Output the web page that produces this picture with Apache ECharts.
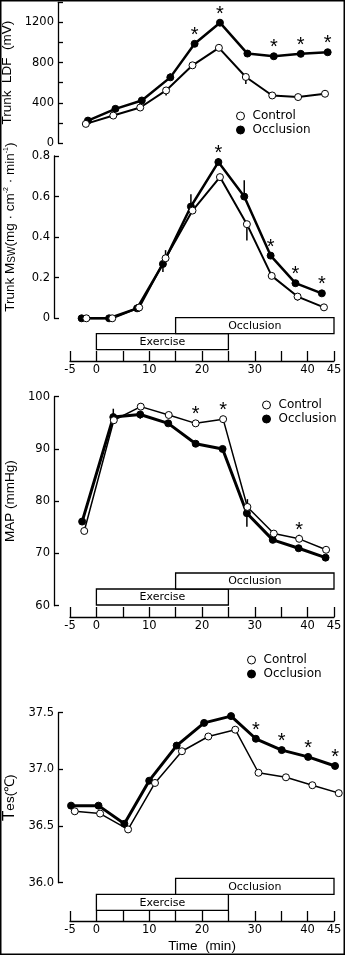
<!DOCTYPE html>
<html><head><meta charset="utf-8">
<script src="https://cdn.jsdelivr.net/npm/echarts@6/dist/echarts.min.js"></script>
<style>html,body{margin:0;padding:0;background:#fff}#c{width:345px;height:955px}</style>
</head><body><div id="c"></div>
<script>
// ---- Panel 1: Trunk LDF (mV)
const ldfTimeControl = [-2, 3.2, 8.3, 13.2, 18.2, 23.2, 28.3, 33.3, 38.2, 43.3];
const ldfControl = [190, 273, 353, 523, 773, 947, 657, 473, 457, 490];
const ldfErrControl = [0, 0, 0, -50, 0, 0, -70, 0, 0, 0];
const ldfTimeOcclusion = [-1.6, 3.6, 8.6, 14.0, 18.6, 23.4, 28.6, 33.6, 38.7, 43.8];
const ldfOcclusion = [223, 340, 423, 653, 987, 1197, 890, 863, 887, 903];
const ldfErrOcclusion = [0, 0, 0, 40, 0, 0, 0, 0, 0, 0];
const ldfSigOcclusion = [0, 0, 0, 0, 1, 1, 0, 1, 1, 1];
const ldfTickLabels = [0, 400, 800, 1200];

// ---- Panel 2: Trunk Msw (mg/cm2/min)
const mswTimeControl = [-1.9, 3.0, 8.1, 13.1, 18.2, 23.4, 28.5, 33.2, 38.1, 43.1];
const mswControl = [0, 0, 0.053, 0.296, 0.531, 0.696, 0.464, 0.209, 0.107, 0.054];
const mswErrControl = [0, 0, -0.02, 0.04, 0, 0, -0.08, 0, -0.02, 0];
const mswTimeOcclusion = [-2.8, 2.4, 7.7, 12.6, 17.9, 23.1, 28.0, 33.0, 37.7, 42.7];
const mswOcclusion = [0, 0, 0.049, 0.268, 0.551, 0.770, 0.600, 0.309, 0.173, 0.123];
const mswErrOcclusion = [0, 0, 0.02, -0.04, 0.06, 0.02, 0.08, 0, 0, 0];
const mswSigOcclusion = [0, 0, 0, 0, 0, 1, 0, 1, 1, 1];
const mswTickLabels = [0, 0.2, 0.4, 0.6, 0.8];

// ---- Panel 3: MAP (mmHg)
const mapTimeControl = [-2.3, 3.3, 8.4, 13.7, 18.8, 24.0, 28.6, 33.6, 38.4, 43.5];
const mapControl = [74.3, 95.5, 98.1, 96.5, 94.9, 95.7, 78.9, 73.8, 72.8, 70.7];
const mapErrControl = [0, 0, 0.6, 0, 0, 0, 1.5, 0, 0.8, 0.4];
const mapTimeOcclusion = [-2.7, 3.2, 8.3, 13.6, 18.8, 23.9, 28.5, 33.4, 38.3, 43.4];
const mapOcclusion = [76.1, 96.1, 96.6, 94.9, 91.0, 90.0, 77.7, 72.6, 71.0, 69.2];
const mapErrOcclusion = [0, 1.6, -0.8, 0, 0, 0, -2.6, 0, 0, 0];
const mapSigControl = [0, 0, 0, 0, 1, 1, 0, 0, 1, 0];
const mapTickLabels = [60, 70, 80, 90, 100];

// ---- Panel 4: Tes (°C)
const tesTimeControl = [-4.1, 0.7, 6.0, 11.1, 16.2, 21.2, 26.3, 30.7, 35.9, 40.9, 45.9];
const tesControl = [36.63, 36.61, 36.47, 36.88, 37.16, 37.29, 37.35, 36.97, 36.93, 36.86, 36.79];
const tesTimeOcclusion = [-4.8, 0.4, 5.3, 10.0, 15.2, 20.4, 25.5, 30.2, 35.1, 40.1, 45.2];
const tesOcclusion = [36.68, 36.68, 36.52, 36.90, 37.21, 37.41, 37.47, 37.27, 37.17, 37.11, 37.03];
const tesSigOcclusion = [0, 0, 0, 0, 0, 0, 0, 1, 1, 1, 1];
const tesTickLabels = ['36.0', '36.5', '37.0', '37.5'];

// ---- Protocol bars and time axis
const periodNames = ['Exercise', 'Occlusion'];
const periodStart = [0, 15];
const periodEnd = [25, 45];
const timeTickLabels = [-5, 0, 10, 20, 30, 40, 45];

const BLACK = '#000';
const TICK_FONT = 'DejaVu Sans';
const NAME_FONT = 'Liberation Sans';

const chart = echarts.init(document.getElementById('c'), null, {renderer: 'canvas'});

const GL = 70, GW = 264;
const grids = [
  {top: 2.3, height: 140.7},   // 0 LDF
  {top: 156, height: 162.3},   // 1 MSW
  {top: 317.7, height: 43.3},  // 2 MSW strip
  {top: 396.7, height: 209},   // 3 MAP
  {top: 573, height: 44},      // 4 MAP strip
  {top: 712.7, height: 170},   // 5 Tes
  {top: 878.3, height: 42.7}   // 6 Tes strip
].map(g => Object.assign({left: GL, width: GW, outerBoundsMode: 'none', containLabel: false}, g));

function hiddenX(i) {
  return {gridIndex: i, type: 'value', min: -5, max: 45, interval: 5, show: false};
}
function timeX(i, extra) {
  return Object.assign({
    gridIndex: i, type: 'value', min: -5, max: 45, interval: 5,
    axisLine: {show: true, onZero: false, lineStyle: {color: BLACK, width: 1.3}},
    axisTick: {show: true, inside: true, length: 10, lineStyle: {color: BLACK, width: 1.3}},
    splitLine: {show: false},
    axisLabel: {
      margin: 3, color: BLACK, fontSize: 11.5, fontFamily: TICK_FONT,
      formatter: v => timeTickLabels.indexOf(v) >= 0 ? String(v) : ''
    }
  }, extra || {});
}
function valueY(i, min, max, interval, labels, offset, name, gap, nameStyle, fmt) {
  return {
    gridIndex: i, type: 'value', min: min, max: max, interval: interval, offset: offset,
    axisLine: {show: true, onZero: false, lineStyle: {color: BLACK, width: 1.3}},
    axisTick: {show: true, inside: true, length: 5, lineStyle: {color: BLACK, width: 1.3}},
    splitLine: {show: false},
    axisLabel: {
      margin: 4, color: BLACK, fontSize: 11.5, fontFamily: TICK_FONT,
      formatter: v => {
        const s = fmt ? fmt(v) : String(v);
        return labels.map(String).indexOf(s) >= 0 ? s : '';
      }
    },
    name: name, nameLocation: 'middle', nameRotate: 90, nameGap: gap,
    nameTextStyle: Object.assign({color: BLACK, fontSize: 13.5, fontFamily: NAME_FONT}, nameStyle || {})
  };
}
function hiddenY(i) {
  return {gridIndex: i, type: 'value', min: 0, max: 1, show: false};
}

const pairs = (ts, vs) => ts.map((t, i) => [t, vs[i]]);

function lineSeries(name, g, ts, vs, filled, width, sig) {
  const s = {
    type: 'line', name: name, xAxisIndex: g, yAxisIndex: g,
    data: pairs(ts, vs), clip: false,
    symbol: 'circle', symbolSize: 7, showSymbol: true, showAllSymbol: true,
    lineStyle: {color: BLACK, width: width},
    itemStyle: {color: filled ? BLACK : '#fff', borderColor: BLACK, borderWidth: 1},
    z: filled ? 3 : 4, animation: false
  };
  if (sig) {
    s.label = {
      show: true, position: 'inside', offset: [0, -8.5],
      fontSize: 20, fontFamily: NAME_FONT, color: BLACK,
      formatter: p => sig[p.dataIndex] ? '*' : ''
    };
  }
  return s;
}
function errSeries(g, ts, vs, es) {
  return {
    type: 'custom', xAxisIndex: g, yAxisIndex: g, clip: false, silent: true, z: 2,
    data: ts.map((t, i) => [t, vs[i], es[i]]),
    renderItem: (params, api) => {
      const e = api.value(2);
      if (!e) return {type: 'group', children: []};
      const p0 = api.coord([api.value(0), api.value(1)]);
      const p1 = api.coord([api.value(0), api.value(1) + e]);
      return {type: 'line', shape: {x1: p0[0], y1: p0[1], x2: p1[0], y2: p1[1]},
        style: {stroke: BLACK, lineWidth: 1.5}};
    }
  };
}
function periodSeries(g) {
  return {
    type: 'custom', xAxisIndex: g, yAxisIndex: g, clip: false, silent: true, z: 5,
    data: periodNames.map((n, i) => [periodStart[i], periodEnd[i], i]),
    renderItem: (params, api) => {
      const cs = params.coordSys;
      const x0 = api.coord([api.value(0), 0])[0];
      const x1 = api.coord([api.value(1), 0])[0];
      const row = api.value(2);
      const h = 16;
      const y = cs.y + (row === 1 ? 0 : h);
      return {type: 'group', children: [
        {type: 'rect', shape: {x: x0, y: y, width: x1 - x0, height: h},
          style: {fill: '#fff', stroke: BLACK, lineWidth: 1.3}},
        {type: 'text', style: {x: (x0 + x1) / 2, y: y + h / 2 + 0.5, text: periodNames[params.dataIndex],
          align: 'center', verticalAlign: 'middle', fontSize: 11, fontFamily: TICK_FONT, fill: BLACK}}
      ]};
    }
  };
}

const legendData = [
  {name: 'Control', icon: 'circle', itemStyle: {color: '#fff', borderColor: BLACK, borderWidth: 1}},
  {name: 'Occlusion', icon: 'circle', itemStyle: {color: BLACK, borderColor: BLACK, borderWidth: 1}}
];
function legendAt(left, top) {
  return {
    left: left, top: top, orient: 'vertical', itemWidth: 8, itemHeight: 8, itemGap: 2,
    padding: 0, selectedMode: false, data: legendData,
    textStyle: {color: BLACK, fontSize: 12, fontFamily: TICK_FONT, padding: [0, 0, 0, 3]}
  };
}

const option = {
  animation: false,
  backgroundColor: '#fff',
  grid: grids,
  legend: [legendAt(236, 110), legendAt(262, 399), legendAt(247, 654)],
  xAxis: [
    hiddenX(0), hiddenX(1), timeX(2), hiddenX(3), timeX(4), hiddenX(5),
    timeX(6, {name: 'Time  (min)', nameLocation: 'middle', nameGap: 18,
      nameTextStyle: {color: BLACK, fontSize: 13.5, fontFamily: NAME_FONT}})
  ],
  yAxis: [
    valueY(0, 0, 1400, 200, ldfTickLabels, 12, 'Trunk  LDF  (mV)', 41),
    valueY(1, 0, 0.8, 0.2, mswTickLabels, 16,
      '{a|Trunk M}{s|SW}{a|(mg · cm}{p|-2}{a| · min}{p|-1}{a|)}', 37,
      {padding: [0, 0, 0, 20], rich: {
        a: {fontSize: 13.5, fontFamily: NAME_FONT, color: BLACK},
        s: {fontSize: 10, fontFamily: NAME_FONT, color: BLACK, verticalAlign: 'bottom'},
        p: {fontSize: 7, fontFamily: NAME_FONT, color: BLACK, verticalAlign: 'top'}
      }}),
    hiddenY(2),
    valueY(3, 60, 100, 10, mapTickLabels, 16, 'MAP (mmHg)', 32),
    hiddenY(4),
    valueY(5, 36, 37.5, 0.5, tesTickLabels, 12, '{t|T}{s|es}{a|(℃)}', 38, {rich: {
        t: {fontSize: 17, fontFamily: NAME_FONT, color: BLACK},
        s: {fontSize: 13.5, fontFamily: NAME_FONT, color: BLACK, verticalAlign: 'bottom'},
        a: {fontSize: 13.5, fontFamily: NAME_FONT, color: BLACK, verticalAlign: 'bottom'}
      }}, v => v.toFixed(1)),
    hiddenY(6)
  ],
  series: [
    errSeries(0, ldfTimeOcclusion, ldfOcclusion, ldfErrOcclusion),
    errSeries(0, ldfTimeControl, ldfControl, ldfErrControl),
    lineSeries('Occlusion', 0, ldfTimeOcclusion, ldfOcclusion, true, 2.5, ldfSigOcclusion),
    lineSeries('Control', 0, ldfTimeControl, ldfControl, false, 2),

    errSeries(1, mswTimeOcclusion, mswOcclusion, mswErrOcclusion),
    errSeries(1, mswTimeControl, mswControl, mswErrControl),
    lineSeries('Occlusion', 1, mswTimeOcclusion, mswOcclusion, true, 2.5, mswSigOcclusion),
    lineSeries('Control', 1, mswTimeControl, mswControl, false, 2),
    periodSeries(2),

    errSeries(3, mapTimeOcclusion, mapOcclusion, mapErrOcclusion),
    errSeries(3, mapTimeControl, mapControl, mapErrControl),
    lineSeries('Occlusion', 3, mapTimeOcclusion, mapOcclusion, true, 3),
    lineSeries('Control', 3, mapTimeControl, mapControl, false, 1.5, mapSigControl),
    periodSeries(4),

    lineSeries('Occlusion', 5, tesTimeOcclusion, tesOcclusion, true, 3, tesSigOcclusion),
    lineSeries('Control', 5, tesTimeControl, tesControl, false, 1.5),
    periodSeries(6)
  ],
  graphic: [
    {type: 'rect', shape: {x: 0.75, y: 0.75, width: 343.5, height: 953.5},
      style: {fill: 'none', stroke: BLACK, lineWidth: 1.5}, silent: true, z: 100}
  ]
};
chart.setOption(option);
</script>
</body></html>
